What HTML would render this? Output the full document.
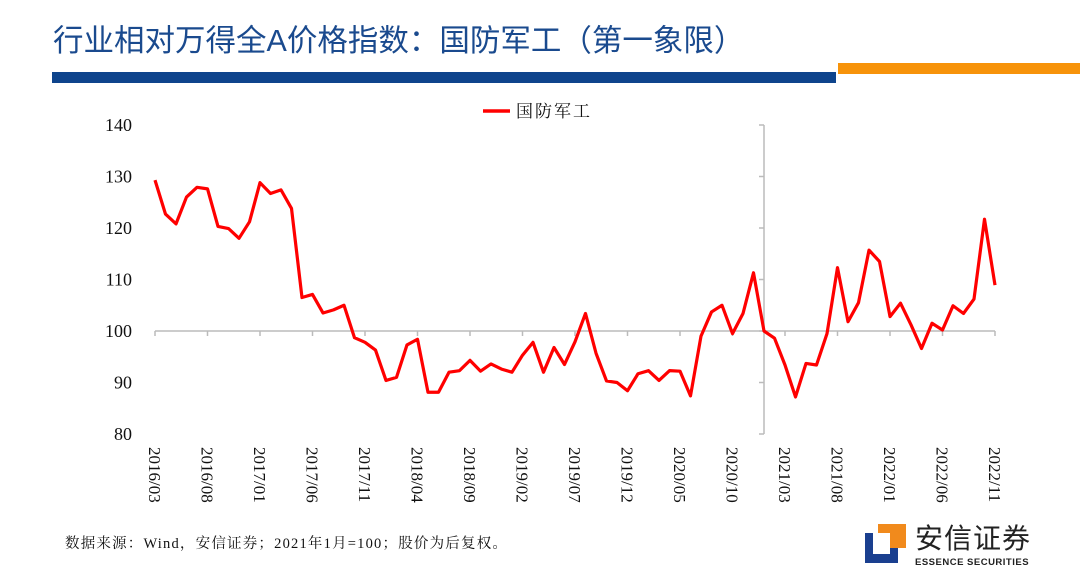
<!DOCTYPE html>
<html><head><meta charset="utf-8"><style>
body{margin:0;width:1080px;height:582px;background:#fff;overflow:hidden;position:relative;font-family:"Liberation Serif","Noto Serif CJK SC",serif}
.title{position:absolute;left:53px;top:16px;font-family:"Liberation Sans","Noto Sans CJK SC",sans-serif;font-size:30.5px;color:#1a4a8e;white-space:nowrap}
</style></head><body>
<div class="title">行业相对万得全A价格指数：国防军工（第一象限）</div>
<div style="position:absolute;left:52px;top:72px;width:784px;height:11px;background:#0e448c"></div>
<div style="position:absolute;left:838px;top:63px;width:242px;height:11px;background:#f7930a"></div>
<svg id="chart" width="1080" height="582" style="position:absolute;left:0;top:0"></svg>
<div style="position:absolute;left:65px;top:532px;font-size:14.5px;color:#111;white-space:nowrap;letter-spacing:1.2px">数据来源：Wind，安信证券；2021年1月=100；股价为后复权。</div>
<div style="position:absolute;left:865px;top:524px;width:200px;height:45px">
<svg width="44" height="40" style="position:absolute;left:0;top:0"><rect x="0" y="9" width="33" height="30" fill="#1a3f8f"/><rect x="8" y="9" width="17" height="21" fill="#fff"/><rect x="13" y="0" width="28" height="24" fill="#f18a1c"/><rect x="13" y="9" width="12" height="15" fill="#fff"/></svg>
<div style="position:absolute;left:50px;top:0px;font-family:'Liberation Sans','Noto Sans CJK SC',sans-serif;font-size:28px;line-height:30px;color:#222;letter-spacing:1px">安信证券</div>
<div style="position:absolute;left:50px;top:33px;font-family:'Liberation Sans',sans-serif;font-size:9.5px;color:#222;font-weight:bold;letter-spacing:0.5px">ESSENCE SECURITIES</div>
</div>
<script>
const categories=["2016/03","2016/08","2017/01","2017/06","2017/11","2018/04","2018/09","2019/02","2019/07","2019/12","2020/05","2020/10","2021/03","2021/08","2022/01","2022/06","2022/11"];
const values=[129.3,122.7,120.8,126.0,127.9,127.6,120.3,119.9,118.0,121.2,128.8,126.7,127.4,123.8,106.5,107.1,103.5,104.1,105.0,98.7,97.8,96.3,90.4,91.0,97.3,98.4,88.1,88.1,92.0,92.3,94.3,92.2,93.6,92.6,92.0,95.3,97.8,92.0,96.8,93.5,97.9,103.4,95.7,90.3,90.0,88.4,91.7,92.3,90.4,92.3,92.2,87.4,99.0,103.7,105.0,99.5,103.4,111.3,100.0,98.6,93.4,87.2,93.7,93.4,99.5,112.3,101.8,105.5,115.7,113.5,102.8,105.4,101.2,96.6,101.5,100.2,104.9,103.4,106.2,121.7,108.9];
const yTicks=[80,90,100,110,120,130,140];
const ns="http://www.w3.org/2000/svg";
const svg=document.getElementById('chart');
const x0=155,step=10.5,yMin=80,yMax=140,yTop=125,yBot=434;
const X=i=>x0+i*step;
const Y=v=>yBot-(v-yMin)/(yMax-yMin)*(yBot-yTop);
const axisX=X(58);
function el(t,a){const e=document.createElementNS(ns,t);for(const k in a)e.setAttribute(k,a[k]);svg.appendChild(e);return e;}
let ya=el('line',{x1:axisX,y1:yTop,x2:axisX,y2:yBot,stroke:'#bbb','stroke-width':1.5});


yTicks.forEach(v=>{
  const t=el('line',{x1:axisX-5,y1:Y(v),x2:axisX,y2:Y(v),stroke:'#bbb','stroke-width':1.5});
  
  
  const l=el('text',{x:132,y:Y(v)+6,'text-anchor':'end','font-size':18,fill:'#111'});
  l.textContent=v;
  
  
});
let xa=el('line',{x1:X(0),y1:Y(100),x2:X(values.length-1),y2:Y(100),stroke:'#bbb','stroke-width':1.5});


categories.forEach((c,k)=>{
  const x=X(k*5);
  const t=el('line',{x1:x,y1:Y(100),x2:x,y2:Y(100)+5,stroke:'#bbb','stroke-width':1.5});
  
  
  const l=el('text',{x:0,y:0,'font-size':17,fill:'#111',transform:`translate(${x-6},447) rotate(90)`});
  l.textContent=c;
  
  
});
const p=el('polyline',{points:values.map((v,i)=>X(i)+','+Y(v)).join(' '),fill:'none',stroke:'#ff0000','stroke-width':3.2,'stroke-linejoin':'round'});


const ll=el('line',{x1:483,y1:111,x2:510,y2:111,stroke:'#ff0000','stroke-width':3.5});


const lt=el('text',{x:516,y:117,'font-size':17,fill:'#111','letter-spacing':2});
lt.textContent='国防军工';


</script>
</body></html>
